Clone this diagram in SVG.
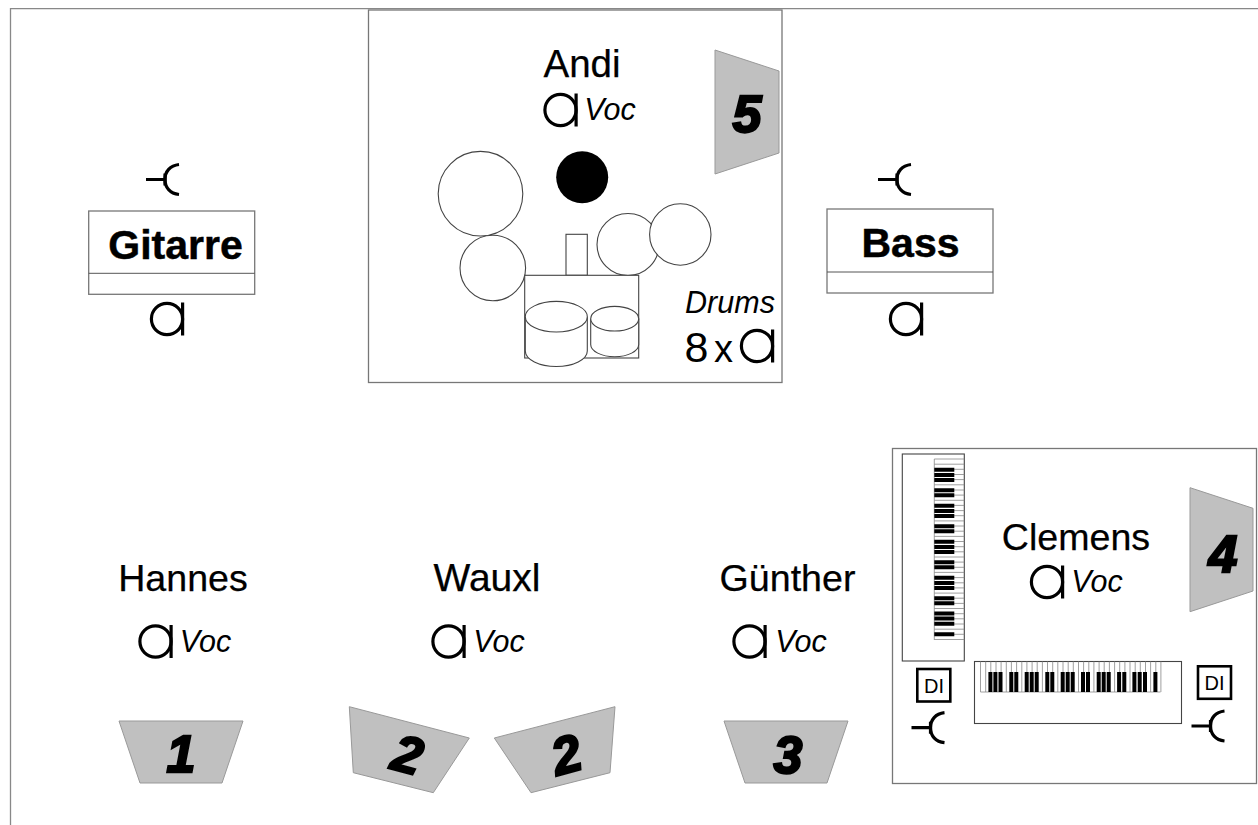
<svg xmlns="http://www.w3.org/2000/svg" xmlns:xlink="http://www.w3.org/1999/xlink" width="1258" height="825" viewBox="0 0 1258 825">
<style>
text{font-family:"Liberation Sans",Arial,sans-serif;fill:#000;text-anchor:middle}
.name{font-size:37.6px;stroke:#000;stroke-width:.25}
.voc{font-size:30.5px;font-style:italic}
.inst{font-size:41px;font-weight:bold;stroke:#000;stroke-width:.5}
.num{font-size:52px;font-weight:bold;font-style:italic;stroke:#000;stroke-width:2.3}
.frame{fill:#fff;stroke:#777;stroke-width:1.3}
.thin{fill:#fff;stroke:#444;stroke-width:1.1}
.spk{fill:#c0c0c0;stroke:#999;stroke-width:1}
.sym{fill:none;stroke:#000;stroke-width:3.2}
.key{fill:none;stroke:#888;stroke-width:.8}
.black{fill:none;stroke:#000;stroke-width:4}
</style>
<defs>
<g id="mic"><circle class="sym" cx="0" cy="0" r="15.6"/><line class="sym" x1="15.6" y1="-16.5" x2="15.6" y2="16.5"/></g>
<g id="jack"><path class="sym" d="M-19,0H0M14,-15C5,-14 0,-8 0,0C0,8 5,14 14,15"/><path d="M-1.6,-6V6H1.6V-6Z" fill="#000"/></g>
</defs>
<rect width="1258" height="825" fill="#fff"/>
<g id="outer"><path d="M10.5,825V8.7H1258" fill="none" stroke="#888" stroke-width="1.3"/></g>
<g id="connectors"/>
<g id="andi">
<rect class="frame" x="368.5" y="10" width="413.5" height="372.5"/>
<text class="name" x="582" y="77" style="font-size:38.5px">Andi</text>
<use xlink:href="#mic" href="#mic" x="560.5" y="110"/>
<text class="voc" x="610" y="120">Voc</text>
<polygon class="spk" points="715,50 779,71 779,153 715,174"/>
<text class="num" x="747" y="132">5</text>
</g>
<g id="drums">
<circle class="thin" cx="480.5" cy="193.7" r="42.3"/>
<circle cx="582.2" cy="177.3" r="26" fill="#000"/>
<circle class="thin" cx="492.8" cy="268" r="32.8"/>
<rect class="thin" x="566" y="234.3" width="21.3" height="41"/>
<circle class="thin" cx="628" cy="244.5" r="31"/>
<circle class="thin" cx="680.3" cy="234.5" r="30.7"/>
<rect class="thin" x="524.7" y="275.3" width="114" height="82.7"/>
<path class="thin" d="M525.3,316.7V351A31,15.5 0 0 0 587.3,351V316.7"/>
<ellipse class="thin" cx="556.3" cy="316.7" rx="31" ry="15.3"/>
<path class="thin" d="M590.7,318.7V344.5A24,12.2 0 0 0 638.7,344.5V318.7"/>
<ellipse class="thin" cx="614.7" cy="318.7" rx="24" ry="12.3"/>
<text class="voc" x="730" y="313">Drums</text>
<text x="696.5" y="362" style="font-size:43px">8</text>
<text x="723.5" y="362" style="font-size:38px">x</text>
<use xlink:href="#mic" href="#mic" x="757" y="346"/>
</g>
<g id="gitarre">
<use xlink:href="#jack" href="#jack" x="165" y="179.5"/>
<rect class="frame" x="88.7" y="211" width="166" height="83.3"/>
<line x1="88.7" y1="273.3" x2="254.7" y2="273.3" stroke="#555" stroke-width="1"/>
<text class="inst" x="175.5" y="258.5">Gitarre</text>
<use xlink:href="#mic" href="#mic" x="167" y="319"/>
</g>
<g id="bass">
<use xlink:href="#jack" href="#jack" x="897" y="179.5"/>
<rect class="frame" x="827" y="209" width="166" height="84"/>
<line x1="827" y1="272" x2="993" y2="272" stroke="#555" stroke-width="1"/>
<text class="inst" x="910.5" y="257">Bass</text>
<use xlink:href="#mic" href="#mic" x="906" y="319"/>
</g>
<g id="hannes">
<text class="name" x="183" y="591">Hannes</text>
<use xlink:href="#mic" href="#mic" x="155.5" y="641.5"/>
<text class="voc" x="205.5" y="652">Voc</text>
<polygon class="spk" points="119,721 243,721 222,783 140,783"/>
<text class="num" x="181" y="772">1</text>
</g>
<g id="wauxl">
<text class="name" x="487" y="591" style="font-size:39px">Wauxl</text>
<use xlink:href="#mic" href="#mic" x="448.5" y="641.5"/>
<text class="voc" x="499" y="652">Voc</text>
<polygon class="spk" points="349.3,706.7 469.3,738 433.3,792.7 353.3,772.7"/>
<text class="num" transform="translate(403,772) rotate(15)">2</text>
<polygon class="spk" points="615,706.7 494.3,738 531,792.7 610,772.7"/>
<text class="num" transform="translate(571,772) rotate(-15)">2</text>
</g>
<g id="guenther">
<text class="name" x="787.5" y="591">Günther</text>
<use xlink:href="#mic" href="#mic" x="749.5" y="641.5"/>
<text class="voc" x="801" y="652">Voc</text>
<polygon class="spk" points="724,721 848,721 827,783 745,783"/>
<text class="num" x="788" y="773">3</text>
</g>
<g id="clemens">
<rect class="frame" x="892.5" y="448.5" width="364" height="335"/>
<text class="name" x="1076" y="550">Clemens</text>
<use xlink:href="#mic" href="#mic" x="1047" y="582"/>
<text class="voc" x="1097" y="592">Voc</text>
<polygon class="spk" points="1190,487.7 1253,508.3 1253,591 1190,611.7"/>
<text class="num" x="1223" y="572">4</text>
</g>
<g id="keyboard-vertical">
<rect class="thin" x="902.3" y="454" width="62" height="207"/>
<path class="key" d="M934.3,459V640M934.3,459H964.3M934.3,464.2H964.3M934.3,469.3H964.3M934.3,474.5H964.3M934.3,479.6H964.3M934.3,484.8H964.3M934.3,490H964.3M934.3,495.1H964.3M934.3,500.3H964.3M934.3,505.4H964.3M934.3,510.6H964.3M934.3,515.7H964.3M934.3,520.9H964.3M934.3,526H964.3M934.3,531.2H964.3M934.3,536.4H964.3M934.3,541.5H964.3M934.3,546.7H964.3M934.3,551.8H964.3M934.3,557H964.3M934.3,562.1H964.3M934.3,567.3H964.3M934.3,572.4H964.3M934.3,577.6H964.3M934.3,582.8H964.3M934.3,587.9H964.3M934.3,593.1H964.3M934.3,598.2H964.3M934.3,603.4H964.3M934.3,608.5H964.3M934.3,613.7H964.3M934.3,618.8H964.3M934.3,624H964.3M934.3,629.2H964.3M934.3,634.3H964.3M934.3,639.5H964.3"/>
<path class="black" d="M934.3,469.8H954.3M934.3,474.9H954.3M934.3,480H954.3M934.3,490.2H954.3M934.3,495.3H954.3M934.3,505.8H954.3M934.3,510.9H954.3M934.3,516H954.3M934.3,526.2H954.3M934.3,531.3H954.3M934.3,541.8H954.3M934.3,546.9H954.3M934.3,552H954.3M934.3,562.2H954.3M934.3,567.3H954.3M934.3,577.8H954.3M934.3,582.9H954.3M934.3,588H954.3M934.3,598.2H954.3M934.3,603.3H954.3M934.3,613.5H954.3M934.3,618.6H954.3M934.3,623.7H954.3M934.3,634.2H954.3"/>
</g>
<g id="keyboard-horizontal">
<rect class="thin" x="974.5" y="661.5" width="207" height="62"/>
<path class="key" d="M980.5,692H1160.5M980.5,661.5V692M985.7,661.5V692M990.8,661.5V692M996,661.5V692M1001.1,661.5V692M1006.3,661.5V692M1011.4,661.5V692M1016.6,661.5V692M1021.8,661.5V692M1026.9,661.5V692M1032.1,661.5V692M1037.2,661.5V692M1042.4,661.5V692M1047.5,661.5V692M1052.7,661.5V692M1057.8,661.5V692M1063,661.5V692M1068.2,661.5V692M1073.3,661.5V692M1078.5,661.5V692M1083.6,661.5V692M1088.8,661.5V692M1093.9,661.5V692M1099.1,661.5V692M1104.2,661.5V692M1109.4,661.5V692M1114.6,661.5V692M1119.7,661.5V692M1124.9,661.5V692M1130,661.5V692M1135.2,661.5V692M1140.3,661.5V692M1145.5,661.5V692M1150.6,661.5V692M1155.8,661.5V692M1160.9,661.5V692"/>
<path class="black" d="M990.4,672V692M995.4,672V692M1000.5,672V692M1011.3,672V692M1016.3,672V692M1026.7,672V692M1031.7,672V692M1036.7,672V692M1047.3,672V692M1052.3,672V692M1062.7,672V692M1067.7,672V692M1072.7,672V692M1083,672V692M1088,672V692M1098.7,672V692M1103.7,672V692M1108.7,672V692M1119.1,672V692M1124.3,672V692M1134.4,672V692M1139.7,672V692M1145,672V692M1155.4,672V692"/>
</g>
<g id="di-left">
<rect x="917.3" y="669" width="33" height="32.5" fill="#fff" stroke="#000" stroke-width="2.6"/>
<text x="934" y="692.5" style="font-size:20px">DI</text>
<use xlink:href="#jack" href="#jack" x="930.5" y="727.7"/>
</g>
<g id="di-right">
<rect x="1198" y="666.3" width="33" height="32.5" fill="#fff" stroke="#000" stroke-width="2.6"/>
<text x="1214.5" y="690" style="font-size:20px">DI</text>
<use xlink:href="#jack" href="#jack" x="1210.5" y="726"/>
</g>
</svg>
